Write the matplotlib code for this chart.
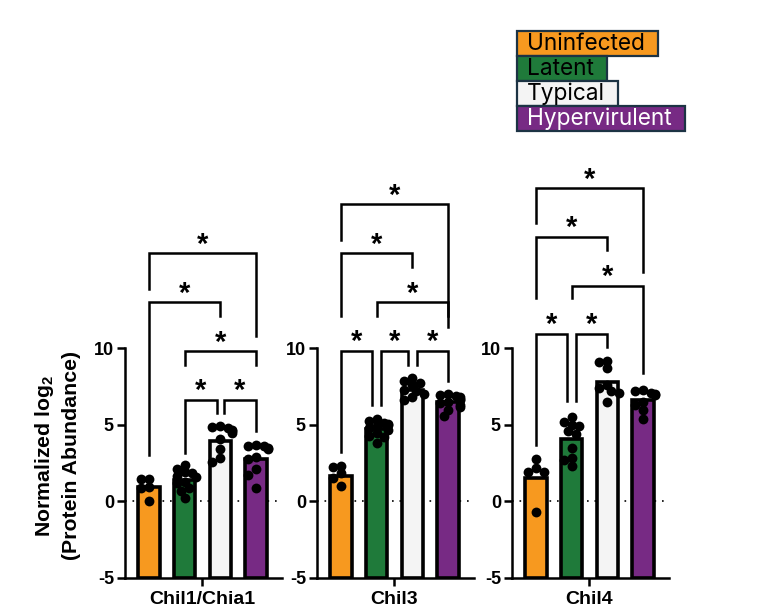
import numpy as np
import matplotlib
matplotlib.use("Agg")
import matplotlib.pyplot as plt
from matplotlib.patches import Rectangle

plt.rcParams['font.family'] = ['Liberation Sans', 'DejaVu Sans']
plt.rcParams['mathtext.fontset'] = 'custom'
plt.rcParams['mathtext.rm'] = 'Liberation Sans'
plt.rcParams['mathtext.bf'] = 'Liberation Sans:bold'
plt.rcParams['axes.unicode_minus'] = False

# groups / colours
groups = ["Uninfected", "Latent", "Typical", "Hypervirulent"]
colors = ["#F7991F", "#1F7A3A", "#F4F4F4", "#772A84"]
genes = ["Chil1/Chia1", "Chil3", "Chil4"]

# bar heights (group means)
means_chil1 = [0.95, 1.38, 3.96, 2.79]
means_chil3 = [1.65, 4.72, 7.29, 6.52]
means_chil4 = [1.54, 4.05, 7.78, 6.61]

# individual samples
dots_chil1 = [
    [1.5, 1.45, 0.95, 0.9, 0.05],
    [2.4, 2.1, 1.9, 1.85, 1.65, 1.6, 1.3, 1.2, 0.9, 0.7, 0.25],
    [4.9, 4.85, 4.8, 4.7, 4.6, 4.5, 4.05, 3.45, 2.85, 2.55],
    [3.7, 3.65, 3.6, 3.5, 3.4, 2.9, 2.75, 2.1, 1.75, 0.85],
]
dots_chil3 = [
    [2.3, 2.25, 1.85, 1.55, 1.0],
    [5.4, 5.25, 5.15, 5.05, 5.0, 4.95, 4.8, 4.7, 4.5, 4.3, 4.2, 3.85],
    [8.05, 7.85, 7.75, 7.6, 7.3, 7.2, 7.0, 6.8, 6.6],
    [7.0, 6.95, 6.9, 6.8, 6.7, 6.6, 6.5, 6.4, 6.3, 6.15, 6.0, 5.6],
]
dots_chil4 = [
    [2.8, 2.2, 1.95, 1.9, -0.7],
    [5.5, 5.2, 5.0, 4.9, 4.6, 4.4, 3.5, 2.85, 2.7, 2.3],
    [9.15, 9.1, 8.7, 7.6, 7.4, 7.2, 7.1, 6.5],
    [7.3, 7.2, 7.1, 7.0, 6.95, 6.5, 6.3, 6.0, 5.4],
]

# significance brackets: (group a, group b, bracket height, left leg end, right leg end, left shift, right shift)
brackets_chil1 = [
    (0, 3, 16.2, 13.9, 10.8, 0, 0),
    (0, 2, 13.0, 3.05, 12.1, 0, 0),
    (1, 3, 9.8, 8.94, 8.94, 0, 0),
    (1, 2, 6.65, 3.15, 5.75, 0, -0.1),
    (2, 3, 6.65, 5.75, 4.6, 0.1, 0),
]
brackets_chil3 = [
    (0, 3, 19.4, 17.1, 12.1, 0, 0),
    (0, 2, 16.2, 12.1, 15.3, 0, 0),
    (1, 3, 13.0, 12.1, 11.4, 0, 0),
    (0, 1, 9.85, 3.2, 6.3, 0, -0.12),
    (1, 2, 9.85, 6.3, 8.9, 0.12, -0.12),
    (2, 3, 9.85, 8.9, 7.9, 0.12, 0),
]
brackets_chil4 = [
    (0, 3, 20.45, 18.2, 15.0, 0, 0),
    (0, 2, 17.3, 13.3, 16.4, 0, 0),
    (1, 3, 14.1, 13.3, 8.4, 0, 0),
    (0, 1, 10.96, 3.7, 6.55, 0, -0.12),
    (1, 2, 10.96, 6.55, 10.1, 0.12, 0),
]


def swarm(vals, xc, dx=0.22, dy=0.42):
    # simple deterministic beeswarm
    order = sorted(range(len(vals)), key=lambda k: -vals[k])
    placed = []
    xs = [xc] * len(vals)
    for k in order:
        v = vals[k]
        off = 0
        for step in [0, -1, 1, -2, 2, -3, 3]:
            off = step * 0.5 * dx
            if all(((off - po) / dx) ** 2 + ((v - pv) / dy) ** 2 >= 1 for po, pv in placed):
                break
        placed.append((off, v))
        xs[k] = xc + off
    return xs


def draw_panel(ax, gene, means, dots, brackets):
    x = np.arange(len(groups))
    ax.axhline(0, color="black", lw=1.2, ls=(0, (1, 3.5)), zorder=1)
    ax.bar(x, np.array(means) + 5, bottom=-5, width=0.6, color=colors,
           edgecolor="black", linewidth=2.6, zorder=2)
    for i, vals in enumerate(dots):
        ax.scatter(swarm(vals, x[i]), vals, s=50, color="black", zorder=3,
                   clip_on=False, linewidths=0)
    for a, b, top, lb, rb, dl, dr in brackets:
        xl, xr = x[a] + dl, x[b] + dr
        ax.plot([xl, xl, xr, xr], [lb, top, top, rb], color="black", lw=1.8,
                clip_on=False, solid_joinstyle="miter", zorder=4)
        ax.annotate("*", xy=((xl + xr) / 2, top), xytext=(0, 0.5),
                    textcoords="offset points", ha="center", va="baseline",
                    fontsize=21, fontweight="bold", annotation_clip=False)
    ax.set_xlim(-0.67, 3.73)
    ax.set_ylim(-5, 22)
    ax.spines["top"].set_visible(False)
    ax.spines["right"].set_visible(False)
    ax.spines["left"].set_bounds(-5, 10)
    ax.spines["left"].set_linewidth(1.8)
    ax.spines["bottom"].set_linewidth(1.8)
    ax.set_yticks([-5, 0, 5, 10])
    ax.set_xticks([1.5])
    ax.set_xticklabels([gene])
    ax.tick_params(axis="y", length=6, width=1.8, labelsize=13, pad=2)
    ax.tick_params(axis="x", length=6, width=1.8, labelsize=14, pad=3)
    for lab in ax.get_xticklabels() + ax.get_yticklabels():
        lab.set_fontweight("bold")
    ax.patch.set_alpha(0)


fig = plt.figure(figsize=(7.73, 6.08), dpi=100)
W, H = 773, 608
lefts = [125, 317, 512]
panels = [
    (genes[0], means_chil1, dots_chil1, brackets_chil1),
    (genes[1], means_chil3, dots_chil3, brackets_chil3),
    (genes[2], means_chil4, dots_chil4, brackets_chil4),
]
for left, (gene, m, d, b) in zip(lefts, panels):
    ax = fig.add_axes([left / W, 30 / H, 157 / W, 413.3 / H])
    draw_panel(ax, gene, m, d, b)

fig.text(57 / W, 1 - 456 / H, "Normalized log$_\\mathbf{2}$\n(Protein Abundance)",
         rotation=90, ha="center", va="center", fontsize=15.3, fontweight="bold",
         multialignment="center", linespacing=1.35)

# legend boxes
box_tops = [31, 56, 81, 106]
box_h = 25
renderer = fig.canvas.get_renderer()
for g, c, top in zip(groups, colors, box_tops):
    tc = "white" if g == "Hypervirulent" else "black"
    t = fig.text(527 / W, 1 - (top + box_h / 2 + 0.5) / H, g, ha="left", va="center",
                 fontsize=16.3, color=tc, family="Inter", zorder=5)
    ext = t.get_window_extent(renderer)
    right = ext.x1 + 13
    fig.patches.append(Rectangle((517 / W, 1 - (top + box_h) / H), (right - 517) / W, box_h / H,
                                 transform=fig.transFigure, facecolor=c,
                                 edgecolor="#1C3344", linewidth=1.6, zorder=4))

fig.savefig("out.png", dpi=100)
